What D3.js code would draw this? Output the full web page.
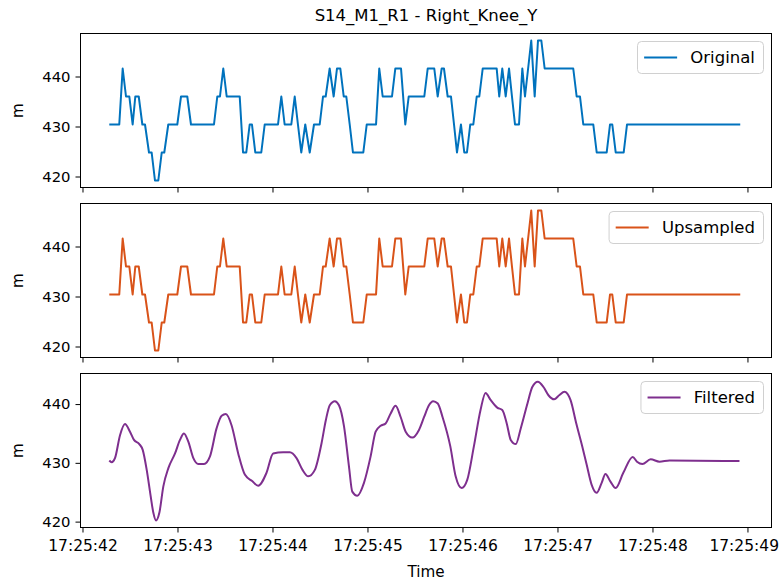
<!DOCTYPE html>
<html><head><meta charset="utf-8">
<script src="https://cdn.jsdelivr.net/npm/d3@7"></script>
<style>
body{margin:0;background:#fff}
svg text{font-family:"DejaVu Sans",sans-serif;fill:#000}
</style>
</head><body>
<svg id="chart" width="780" height="581"></svg>
<script>
// ---------- data (time = seconds after 17:25:00) ----------
const chartTitle = "S14_M1_R1 - Right_Knee_Y";
const xTickSeconds = [42, 43, 44, 45, 46, 47, 48, 49];
const yTickValues = [420, 430, 440];
const seriesNames = ["Original", "Upsampled", "Filtered"];
const seriesColors = ["#0072BD", "#D95319", "#7E2F8E"];

const originalTime = [42.282,42.387,42.423,42.458,42.493,42.528,42.556,42.592,42.630,42.658,42.700,42.728,42.763,42.798,42.834,42.861,42.903,42.998,43.037,43.103,43.142,43.384,43.419,43.447,43.482,43.518,43.655,43.690,43.724,43.760,43.784,43.819,43.882,43.918,44.058,44.093,44.128,44.198,44.234,44.268,44.303,44.345,44.392,44.437,44.497,44.532,44.560,44.602,44.644,44.679,44.714,44.750,44.777,44.813,44.847,44.956,44.992,45.090,45.124,45.160,45.258,45.293,45.353,45.398,45.434,45.598,45.634,45.703,45.739,45.781,45.805,45.844,45.879,45.911,45.942,45.984,46.019,46.047,46.082,46.114,46.150,46.177,46.213,46.360,46.387,46.419,46.455,46.490,46.521,46.553,46.595,46.630,46.658,46.724,46.760,46.795,46.830,46.865,47.166,47.202,47.237,47.272,47.377,47.413,47.518,47.553,47.577,47.613,47.697,47.732,48.924];
const originalValue = [430.4,430.4,441.6,436.0,436.0,430.4,436.0,436.0,430.4,430.4,424.8,424.8,419.2,419.2,424.8,424.8,430.4,430.4,436.0,436.0,430.4,430.4,436.0,436.0,441.6,436.0,436.0,424.8,424.8,430.4,430.4,424.8,424.8,430.4,430.4,436.0,430.4,430.4,436.0,430.4,424.8,430.4,424.8,430.4,430.4,436.0,436.0,441.6,436.0,441.6,441.6,436.0,436.0,430.4,424.8,424.8,430.4,430.4,441.6,436.0,436.0,441.6,441.6,430.4,436.0,436.0,441.6,441.6,436.0,441.6,441.6,436.0,436.0,430.4,424.8,430.4,424.8,424.8,430.4,430.4,436.0,436.0,441.6,441.6,436.0,441.6,436.0,441.6,436.0,430.4,430.4,441.6,436.0,447.2,436.0,447.2,447.2,441.6,441.6,436.0,436.0,430.4,430.4,424.8,424.8,430.4,430.4,424.8,424.8,430.4,430.4];

const upsampledTime = originalTime.slice();
const upsampledValue = originalValue.slice();

const filteredTime = [42.282,42.307,42.342,42.395,42.447,42.500,42.542,42.598,42.634,42.676,42.718,42.746,42.774,42.809,42.851,42.904,42.974,43.026,43.068,43.114,43.167,43.219,43.279,43.342,43.412,43.465,43.509,43.569,43.639,43.709,43.786,43.849,43.937,44.007,44.112,44.183,44.253,44.316,44.376,44.446,44.516,44.562,44.603,44.657,44.700,44.753,44.805,44.840,44.893,44.963,45.033,45.086,45.139,45.191,45.244,45.296,45.349,45.402,45.472,45.542,45.596,45.647,45.691,45.740,45.790,45.872,45.928,45.991,46.050,46.120,46.190,46.243,46.296,46.366,46.419,46.466,46.508,46.561,46.614,46.684,46.735,46.793,46.853,46.905,46.965,47.018,47.074,47.137,47.198,47.261,47.307,47.359,47.412,47.465,47.505,47.558,47.612,47.693,47.792,47.837,47.894,47.981,48.074,48.180,48.916];
const filteredValue = [430.4,430.1,430.8,434.7,436.6,435.3,433.9,433.2,432.2,428.8,424.3,421.5,420.2,421.5,426.0,429.1,431.6,433.9,435.0,433.6,430.8,429.8,429.8,431.1,435.9,438.0,438.3,436.4,431.6,428.0,426.9,426.1,428.3,431.6,431.8,431.8,430.8,428.8,427.7,428.8,433.3,437.3,439.8,440.5,439.8,436.2,429.4,425.1,424.4,426.6,431.1,435.3,436.3,436.7,438.4,439.7,437.8,435.3,434.3,435.6,437.8,439.8,440.5,440.1,437.8,432.8,427.7,425.7,427.1,432.8,439.0,441.9,440.7,439.4,439.0,436.7,433.9,433.2,435.9,440.1,442.9,443.8,442.9,441.5,440.8,441.5,442.1,440.7,436.7,432.8,429.7,426.3,424.9,426.6,428.1,426.8,425.7,428.3,431.0,430.2,429.8,430.6,430.2,430.4,430.3];

// ---------- layout ----------
const W = 780, H = 581;
const left = 80.5, right = 771.5;
const panelTops = [33.5, 203.5, 373.5];
const panelH = 154;
const yDomains = [[417.8, 448.6], [417.8, 448.6], [419.0, 445.2]];
const xDomainSec = [41.979, 49.253];
const fsY = 14.8, fsX = 15.5, fsL = 16.5, fsA = 15.2;

const svg = d3.select("#chart");
const toDate = s => new Date(2000, 0, 1, 17, 25, 0, Math.round(s * 1000));

const x = d3.scaleTime().domain(xDomainSec.map(toDate)).range([left, right]);

svg.append("rect").attr("width", W).attr("height", H).attr("fill", "#fff");

svg.append("text").attr("x", (left + right) / 2).attr("y", 21)
  .attr("text-anchor", "middle").style("font-size", "16.5px").text(chartTitle);

const datasets = [
  [originalTime, originalValue],
  [upsampledTime, upsampledValue],
  [filteredTime, filteredValue]
];

datasets.forEach((ds, i) => {
  const top = panelTops[i], bottom = top + panelH;
  const y = d3.scaleLinear().domain(yDomains[i]).range([bottom, top]);
  const g = svg.append("g");
  const clipId = "clip" + i;
  svg.append("clipPath").attr("id", clipId).append("rect")
    .attr("x", left).attr("y", top).attr("width", right - left).attr("height", panelH);

  const pts = ds[0].map((t, k) => [toDate(t), ds[1][k]]);
  const line = d3.line().x(d => x(d[0])).y(d => y(d[1]))
    .curve(i === 2 ? d3.curveMonotoneX : d3.curveLinear);
  g.append("path").datum(pts).attr("d", line)
    .attr("fill", "none").attr("stroke", seriesColors[i])
    .attr("stroke-width", 2).attr("stroke-linejoin", "round")
    .attr("clip-path", `url(#${clipId})`);

  // y axis
  const ya = g.append("g").attr("transform", `translate(${left},0)`)
    .call(d3.axisLeft(y).tickValues(yTickValues).tickSize(5).tickPadding(5).tickFormat(d3.format("d")));
  ya.select(".domain").remove();
  ya.selectAll("line").attr("stroke", "#000").attr("stroke-width", 1);
  ya.selectAll("text").style("font-size", fsY + "px").attr("font-family", "DejaVu Sans");

  // x axis
  const xa = g.append("g").attr("transform", `translate(0,${bottom})`)
    .call(d3.axisBottom(x).tickValues(xTickSeconds.map(toDate)).tickSize(5).tickPadding(7)
      .tickFormat(d3.timeFormat("%H:%M:%S")));
  xa.select(".domain").remove();
  xa.selectAll("line").attr("stroke", "#000").attr("stroke-width", 1);
  xa.selectAll("text").style("font-size", fsX + "px").attr("font-family", "DejaVu Sans");
  if (i < 2) {
    xa.selectAll("text").remove();
  } else {
    // keep the last label inside the page
    xa.selectAll(".tick").each(function () {
      const t = d3.select(this).select("text");
      const tr = this.getAttribute("transform");
      const tx = +tr.match(/translate\(([-\d.]+)/)[1];
      const w = t.node().getComputedTextLength();
      const overflow = tx + w / 2 - (W - 1);
      if (overflow > 0) t.attr("x", -overflow);
    });
  }

  // frame
  g.append("rect").attr("x", left).attr("y", top).attr("width", right - left).attr("height", panelH)
    .attr("fill", "none").attr("stroke", "#000").attr("stroke-width", 1);

  // y label
  g.append("text").attr("transform", `translate(23,${top + panelH / 2}) rotate(-90)`)
    .attr("text-anchor", "middle").style("font-size", fsA + "px").text("m");

  // legend (auto-sized from text)
  const lg = g.append("g");
  const txt = lg.append("text").style("font-size", fsL + "px").text(seriesNames[i]);
  const tw = txt.node().getComputedTextLength();
  const pad = 0.4 * fsL, hl = 2 * fsL, tp = 0.8 * fsL;
  const lw = pad * 2 + hl + tp + tw + 2, lh = 32;
  const lx = right - 8 - lw, ly = top + 8;
  lg.insert("rect", "text").attr("x", lx).attr("y", ly).attr("width", lw).attr("height", lh)
    .attr("rx", 4).attr("fill", "#fff").attr("fill-opacity", 0.8)
    .attr("stroke", "#d0d0d0").attr("stroke-width", 1);
  lg.append("line").attr("x1", lx + pad).attr("x2", lx + pad + hl).attr("y1", ly + lh / 2).attr("y2", ly + lh / 2)
    .attr("stroke", seriesColors[i]).attr("stroke-width", 2);
  txt.attr("x", lx + pad + hl + tp).attr("y", ly + lh / 2).attr("dy", "0.36em");
});

svg.append("text").attr("x", (left + right) / 2).attr("y", 577)
  .attr("text-anchor", "middle").style("font-size", fsA + "px").text("Time");
</script>
</body></html>
